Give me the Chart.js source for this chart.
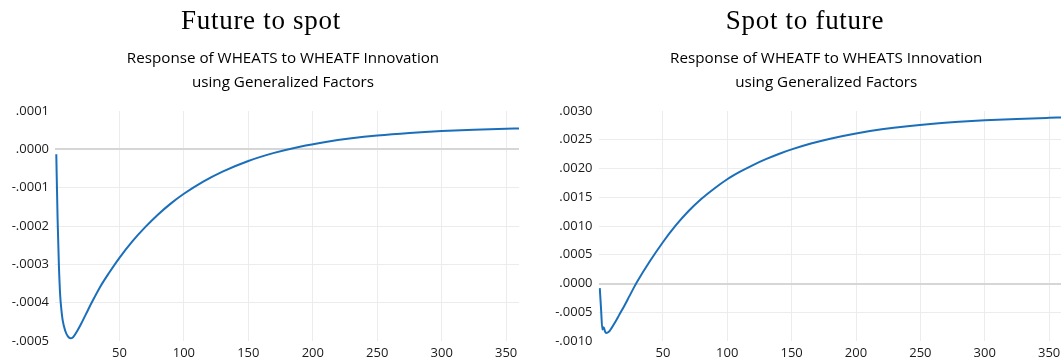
<!DOCTYPE html>
<html>
<head>
<meta charset="utf-8">
<script src="https://cdn.jsdelivr.net/npm/chart.js@4/dist/chart.umd.min.js"></script>
<style>
  html, body { margin: 0; padding: 0; background: #fff; overflow: hidden; width: 1061px; height: 363px; }
  .panel { position: absolute; top: 0; }
  canvas { display: block; }
</style>
</head>
<body>
<div class="panel" style="left:0px"><canvas id="left" width="522" height="363"></canvas></div>
<div class="panel" style="left:530px"><canvas id="right" width="550" height="363"></canvas></div>
<script>
// Impulse-response horizon (periods) and responses
const periodsFS = [1, 2, 3, 4, 5, 6, 8, 10, 12, 14, 17, 20, 24, 28, 35, 42, 50, 60, 70, 80, 90, 100, 115, 130, 150, 170, 190, 210, 230, 250, 275, 300, 325, 350, 360];
const responseFS = [-0.000013, -0.00018, -0.00030, -0.00038, -0.00042, -0.000447, -0.000474, -0.000488, -0.000493, -0.000490, -0.000475, -0.000457, -0.000430, -0.000403, -0.000359, -0.000322, -0.000283, -0.000240, -0.000203, -0.000170, -0.000141, -0.000116, -0.0000842, -0.0000581, -0.0000304, -0.0000093, 0.000007, 0.0000194, 0.0000289, 0.0000362, 0.0000429, 0.0000478, 0.0000512, 0.0000537, 0.0000545];

const periodsSF = [1, 2, 3, 4, 5, 6, 8, 10, 13, 16, 20, 24, 28, 30, 40, 50, 60, 70, 80, 90, 100, 110, 120, 130, 140, 150, 165, 180, 200, 220, 240, 260, 280, 300, 325, 350, 360];
const responseSF = [-0.00008, -0.00045, -0.00080, -0.00076, -0.00083, -0.00086, -0.00084, -0.00078, -0.00067, -0.00055, -0.00039, -0.00022, -0.00005, 0.00003, 0.00039, 0.000718, 0.00101, 0.00126, 0.001473, 0.001653, 0.001813, 0.001944, 0.00206, 0.002162, 0.002253, 0.002332, 0.002434, 0.002519, 0.00261, 0.002681, 0.002736, 0.002779, 0.002812, 0.002838, 0.002863, 0.002881, 0.002887];

const xTicks = [50, 100, 150, 200, 250, 300, 350];

const titleFS = 'Future to spot';
const subtitleFS = ['Response of WHEATS to WHEATF Innovation', 'using Generalized Factors'];
const titleSF = 'Spot to future';
const subtitleSF = ['Response of WHEATF to WHEATS Innovation', 'using Generalized Factors'];

const LINE = '#1b6fba';

function fmt(v) {
  if (Math.abs(v) < 1e-12) return '.0000';
  const s = Math.abs(v).toFixed(4).replace(/^0/, '');
  return (v < 0 ? '-' : '') + s;
}

// Heading text drawn above the plot area
const headings = {
  id: 'headings',
  afterDraw(chart, args, opts) {
    const ctx = chart.ctx;
    const area = chart.chartArea;
    ctx.save();
    ctx.fillStyle = '#000';
    ctx.textAlign = 'center';
    ctx.textBaseline = 'alphabetic';
    ctx.font = '27px "Liberation Serif", serif';
    if ('letterSpacing' in ctx) ctx.letterSpacing = '0.7px';
    ctx.fillText(opts.title, chart.width / 2, 29);
    if ('letterSpacing' in ctx) ctx.letterSpacing = '0px';
    ctx.font = '15.2px "Open Sans", sans-serif';
    const cx = (area.left + area.right) / 2 - 4;
    opts.subtitle.forEach((line, i) => ctx.fillText(line, cx, 62.5 + i * 24.5));
    ctx.restore();
  }
};

function makeChart(id, periods, values, yMin, yMax, yStep, axisWidth, rightPad, title, subtitle) {
  const points = periods.map((p, i) => ({ x: p, y: values[i] }));
  return new Chart(document.getElementById(id), {
    type: 'line',
    data: {
      datasets: [{
        data: points,
        borderColor: LINE,
        borderWidth: 2,
        pointRadius: 0,
        cubicInterpolationMode: 'monotone',
        fill: false
      }]
    },
    options: {
      responsive: false,
      animation: false,
      events: [],
      layout: { padding: { top: 111, right: rightPad, left: 0, bottom: 0 } },
      plugins: {
        legend: { display: false },
        tooltip: { enabled: false },
        headings: { title: title, subtitle: subtitle }
      },
      scales: {
        x: {
          type: 'linear',
          min: 0,
          max: 360,
          border: { display: false },
          grid: { color: '#ececec', lineWidth: 1, drawTicks: false },
          afterBuildTicks(scale) { scale.ticks = xTicks.map(v => ({ value: v })); },
          afterFit(scale) { scale.height = 22; },
          ticks: {
            padding: 4,
            maxRotation: 0,
            color: '#1a1a1a',
            font: { family: '"Open Sans", sans-serif', size: 13 },
            callback: v => String(v)
          }
        },
        y: {
          min: yMin,
          max: yMax,
          border: { display: false },
          afterFit(scale) { scale.width = axisWidth; },
          grid: {
            drawTicks: false,
            color: c => {
              const v = c.tick ? c.tick.value : 0;
              if (Math.abs(v) < 1e-12) return '#d6d6d6';
              if (Math.abs(v - yMin) < 1e-12 || Math.abs(v - yMax) < 1e-12) return 'rgba(0,0,0,0)';
              return '#ececec';
            },
            lineWidth: c => (c.tick && Math.abs(c.tick.value) < 1e-12) ? 2 : 1
          },
          ticks: {
            stepSize: yStep,
            padding: 6,
            color: '#1a1a1a',
            font: { family: '"Open Sans", sans-serif', size: 13 },
            callback: v => fmt(v)
          }
        }
      }
    },
    plugins: [headings]
  });
}

makeChart('left', periodsFS, responseFS, -0.0005, 0.0001, 0.0001, 55, 3, titleFS, subtitleFS);
makeChart('right', periodsSF, responseSF, -0.0010, 0.0030, 0.0005, 68.5, 18, titleSF, subtitleSF);
</script>
</body>
</html>
